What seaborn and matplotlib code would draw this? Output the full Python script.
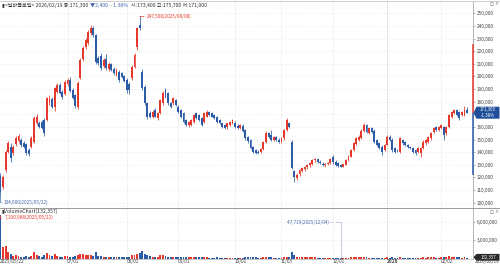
import numpy as np
import pandas as pd
import matplotlib
matplotlib.use("Agg")
import matplotlib.pyplot as plt
from matplotlib.transforms import Affine2D, blended_transform_factory
from matplotlib.patches import Polygon
from matplotlib.ticker import FuncFormatter
import seaborn as sns

# ---------------- data ----------------
stock_name = "달바글로벌"
holidays = ["2025-06-03", "2025-06-06", "2025-08-15", "2025-10-03", "2025-10-06",
            "2025-10-07", "2025-10-08", "2025-10-09", "2025-12-25", "2025-12-31",
            "2026-01-01", "2026-02-16", "2026-02-17", "2026-02-18"]

open_ = [121000, 112700, 126000, 140500, 144500, 139000, 146500, 149000, 150000, 147000,
         146500, 141500, 144400, 148300, 163000, 163000, 164000, 165500, 165500, 179000,
         182500, 175500, 188000, 193000, 187500, 186000, 194000, 197500, 189000, 185000,
         176000, 199000, 213500, 223500, 226500, 234500, 238000, 233000, 214500, 216000,
         208000, 213500, 206000, 210000, 206000, 201000, 203800, 202500, 200000, 197000,
         194000, 198500, 207800, 223600, 240700, 203800, 191900, 178700, 170800, 168200,
         173400, 166800, 170800, 178700, 189300, 186600, 178700, 178700, 181400, 176100,
         173400, 170800, 165500, 161600, 161600, 164200, 170800, 169500, 166800, 164200,
         168200, 172100, 170800, 169500, 168200, 165500, 162900, 161600, 159700, 161600,
         162900, 163500, 161000, 159000, 161000, 157500, 152000, 149500, 144000, 141500,
         140500, 140000, 142500, 148000, 155000, 154000, 150000, 152000, 150000, 148400,
         151000, 157600, 162900, 148400, 125000, 119500, 122500, 125500, 127000, 128000,
         129500, 131000, 133500, 134500, 132500, 131000, 129500, 130500, 131200, 136500,
         132500, 131200, 129900, 128600, 130000, 133500, 136500, 141800, 146500, 150000,
         151500, 157000, 161500, 155500, 158900, 157000, 149700, 147000, 144400, 141800,
         146000, 152300, 150000, 143100, 141800, 140400, 149700, 148400, 145700, 144400,
         143100, 141800, 140400, 139100, 143100, 147000, 148400, 151000, 156300, 160200,
         157600, 158900, 160200, 155000, 160200, 168200, 170800, 173400, 172100, 169500,
         169500, 173400]
high_ = [123500, 122000, 142000, 149000, 147500, 146000, 153000, 154500, 151500, 148500,
         147500, 143000, 152500, 168500, 170000, 165000, 165500, 167000, 184000, 185000,
         184000, 191500, 195000, 194500, 189000, 197000, 199000, 199500, 190500, 186000,
         196500, 214500, 224000, 230500, 236500, 240700, 240000, 234000, 216500, 218500,
         214500, 218000, 211500, 211000, 207500, 206500, 205000, 203500, 201000, 198500,
         195500, 209000, 218500, 239500, 247500, 206000, 193000, 180000, 172500, 173500,
         175000, 172000, 182500, 188500, 190500, 187500, 180000, 184000, 182500, 177000,
         174500, 171500, 166500, 165000, 166500, 170500, 172000, 170500, 167500, 171500,
         173500, 173000, 171500, 170500, 169000, 166500, 163500, 162000, 163500, 165000,
         166500, 165000, 162000, 162500, 162000, 158500, 153000, 150500, 145000, 142500,
         141500, 143500, 149000, 156500, 156000, 157600, 153000, 153000, 151000, 152000,
         158500, 167000, 164000, 150000, 126000, 123500, 126500, 128000, 129000, 130500,
         132000, 134500, 135500, 135000, 133500, 132000, 131500, 132000, 135500, 137500,
         133500, 132000, 130500, 131000, 134500, 137500, 142500, 148000, 152000, 153500,
         158000, 163000, 162500, 160000, 160000, 158000, 150500, 148000, 145500, 146500,
         153500, 153500, 151000, 144000, 142500, 152000, 150500, 149000, 146500, 145000,
         144000, 142500, 144000, 144000, 149500, 150500, 153000, 156000, 160000, 161000,
         161000, 162500, 161000, 161000, 170500, 173000, 174500, 174000, 173000, 173000,
         176500, 175700]
low_ = [104600, 110500, 124500, 139000, 132000, 137500, 145000, 147500, 144500, 143000,
        137500, 137000, 143500, 147500, 161500, 159000, 158000, 153000, 164500, 177500,
        175000, 173000, 186500, 186000, 182500, 185000, 192500, 187500, 182000, 175000,
        174500, 198000, 212000, 222000, 225000, 233000, 231500, 209500, 209000, 205500,
        207000, 205500, 204500, 204000, 201500, 200000, 196000, 198500, 195500, 186600,
        186000, 197000, 206500, 221000, 236500, 189000, 177500, 166500, 167000, 167000,
        167500, 165500, 170000, 177500, 183000, 177500, 175000, 177500, 176500, 171000,
        167000, 163500, 160500, 160000, 160500, 163000, 166000, 164500, 160500, 163000,
        167500, 168500, 167500, 166000, 163500, 162000, 159500, 158000, 158500, 160500,
        162000, 159500, 158500, 158000, 156000, 150000, 147500, 142500, 139500, 138500,
        138500, 139000, 141500, 147000, 151500, 149000, 148500, 148500, 147500, 147500,
        150000, 156500, 159000, 126500, 116700, 118000, 121000, 124000, 125500, 127000,
        128500, 130000, 132000, 131500, 130500, 129000, 128500, 129500, 130500, 131000,
        129000, 128500, 128000, 128000, 129500, 133000, 136000, 141000, 145500, 149000,
        150500, 156000, 155500, 154500, 155500, 147500, 145000, 142500, 138000, 141000,
        145500, 149000, 140000, 139500, 140000, 139500, 146000, 145000, 143500, 142500,
        139500, 138000, 139500, 136500, 142500, 146000, 147500, 150000, 155500, 156500,
        156500, 158000, 149700, 154000, 159500, 167000, 170000, 168500, 165500, 168500,
        169000, 171000]
close_ = [108700, 120600, 140400, 147000, 135500, 144500, 151000, 152500, 145600, 144400,
          139000, 138500, 151000, 166900, 168200, 160200, 159000, 155600, 182700, 183000,
          176000, 190500, 193500, 187000, 184000, 195500, 197500, 188500, 183000, 176500,
          195000, 213000, 222500, 229000, 235000, 238000, 233000, 211700, 210500, 207000,
          213000, 206500, 210000, 205500, 203000, 205000, 197200, 199800, 196500, 189300,
          189000, 207800, 217000, 238100, 238100, 190600, 178700, 168200, 168200, 172100,
          168200, 170800, 181400, 186600, 184000, 178700, 176100, 182700, 177400, 172100,
          168200, 164200, 161600, 164200, 165500, 169500, 166800, 165500, 161600, 170800,
          172100, 169500, 168200, 166800, 164200, 162900, 160200, 158900, 162900, 164200,
          165500, 160200, 159500, 161500, 157000, 151000, 148500, 143500, 140500, 139200,
          139500, 142500, 148000, 155000, 152300, 150000, 152000, 149700, 148400, 151000,
          157600, 165500, 160200, 127200, 120700, 122000, 125900, 127200, 128600, 129900,
          131200, 133900, 134500, 132500, 131200, 129900, 130800, 131200, 134500, 132500,
          129900, 129000, 128600, 130500, 133900, 136500, 141800, 147000, 151000, 152300,
          157000, 161600, 156300, 158900, 156300, 148400, 145700, 143100, 140400, 145700,
          152300, 149700, 141800, 140400, 140800, 151000, 147000, 145700, 144400, 143100,
          140400, 139100, 143100, 143100, 148400, 149700, 152300, 155000, 158900, 157600,
          160200, 161600, 153600, 160200, 169500, 172100, 173400, 169500, 166800, 172100,
          173700, 171300]
volume_k = [7190.988, 1830, 2000, 1150, 720, 420, 550, 480, 330, 300,
            380, 260, 340, 1100, 650, 380, 300, 520, 900, 560,
            480, 760, 450, 300, 280, 420, 380, 330, 300, 350,
            620, 800, 700, 580, 640, 520, 450, 1000, 420, 380,
            300, 320, 260, 240, 220, 250, 280, 230, 260, 320,
            300, 520, 640, 820, 900, 1250, 820, 600, 380, 300,
            260, 240, 520, 600, 420, 330, 250, 280, 220, 200,
            240, 260, 220, 180, 190, 260, 200, 170, 210, 240,
            200, 160, 150, 140, 170, 150, 160, 140, 150, 140,
            130, 150, 120, 130, 160, 220, 200, 240, 210, 170,
            140, 150, 200, 260, 180, 170, 130, 140, 120, 150,
            220, 330, 240, 1150, 620, 320, 260, 210, 180, 190,
            200, 230, 170, 140, 120, 110, 100, 95, 130, 110,
            80, 60, 47.719, 70, 140, 160, 190, 240, 210, 170,
            230, 260, 190, 150, 120, 160, 150, 130, 150, 120,
            200, 150, 180, 120, 100, 230, 140, 110, 100, 90,
            110, 120, 110, 140, 180, 160, 170, 190, 220, 150,
            160, 170, 260, 230, 450, 320, 240, 200, 220, 160,
            180, 132.357]
prev_close = 173700
upper_limit = 225500
lower_limit = 121600
price_ticks = list(range(100000, 250001, 10000))
volume_ticks = [3000000, 6000000]

# ---------------- style ----------------
RED = "#e5392d"
BLUE = "#2c5ca8"
NAVY = "#1f4f9a"
GRID = "#e2e2e2"
TXT = "#444444"

sns.set_style("white")
plt.rcParams["font.family"] = ["Noto Sans CJK KR", "DejaVu Sans"]
FS = 3.4
FS_HEAD = 3.7

dates = pd.bdate_range("2025-05-22", "2026-02-19")
dates = dates[~dates.isin(pd.to_datetime(holidays))]
n = len(dates)
x = np.arange(n)
o = np.array(open_, float)
h = np.array(high_, float)
l = np.array(low_, float)
c = np.array(close_, float)
vol = np.array(volume_k) * 1000
up = c >= o
col = np.where(up, RED, BLUE)

W, H = 500, 265
fig = plt.figure(figsize=(W / 100, H / 100), dpi=100)
px = Affine2D().scale(1 / W, -1 / H).translate(0, 1) + fig.transFigure

ax = fig.add_axes([0, (H - 207) / H, 473 / W, 206 / H])
axv = fig.add_axes([0, (H - 258.5) / H, 473 / W, 50.5 / H])

# month ticks (first month after the listing month is not labelled)
tick_idx = [0]
tick_lab = [dates[0].strftime("%Y/%m/%d")]
first_change = True
for i in range(1, n):
    if dates[i].month != dates[i - 1].month:
        if first_change:
            first_change = False
            continue
        tick_idx.append(i)
        tick_lab.append(str(dates[i].year) if dates[i].month == 1 else dates[i].strftime("%m/%d"))

# ---------------- price pane ----------------
for a in (ax, axv):
    for i, lab in zip(tick_idx[1:], tick_lab[1:]):
        a.axvline(i, color="#a8a8a8" if lab == "2026" else "#d6d6d6", lw=0.5,
                  ls=(0, (1, 1.5)), zorder=0)

ax.vlines(x, l, h, colors=col, lw=0.55, zorder=2)
body = np.maximum(np.abs(c - o), 350)
ax.bar(x, body, bottom=np.minimum(o, c), width=0.74, color=col, linewidth=0, zorder=3)

ax.set_xlim(-0.19, 183.3)
ax.set_ylim(96630, 259740)
ax.set_yticks(price_ticks)
# the tick label hidden under the current-price box is left blank
ax.yaxis.set_major_formatter(
    FuncFormatter(lambda v, _: "" if abs(v - c[-1]) < 6000 else f"{int(v):,}"))
ax.yaxis.tick_right()
ax.tick_params(axis="y", direction="out", length=1.6, width=0.4, color="#777",
               labelsize=FS, labelcolor=TXT, pad=1.2)
ax.tick_params(axis="x", bottom=False, labelbottom=False)
ax.grid(axis="y", color=GRID, lw=0.4, ls=(0, (1, 1.5)))
ax.grid(axis="x", visible=False)
for s in ("left", "top", "bottom"):
    ax.spines[s].set_visible(False)
ax.spines["right"].set_color("#9a9a9a")
ax.spines["right"].set_linewidth(0.5)

# daily limit bar on the axis
bt = blended_transform_factory(ax.transAxes, ax.transData)
ax.plot([1, 1], [c[-1], upper_limit], transform=bt, color=RED, lw=1.1, clip_on=False,
        solid_capstyle="butt", zorder=5)
ax.plot([1, 1], [lower_limit, c[-1]], transform=bt, color=BLUE, lw=1.1, clip_on=False,
        solid_capstyle="butt", zorder=5)

# max / min labels
imax = int(np.argmax(h))
imin = int(np.argmin(l))
ax.annotate(f"{int(h[imax]):,}({dates[imax].strftime('%Y/%m/%d')})", xy=(imax, h[imax]),
            xytext=(5.5, 0), textcoords="offset points", color=RED, fontsize=FS,
            va="center", ha="left",
            arrowprops=dict(arrowstyle="-", color=RED, lw=0.5, shrinkA=0, shrinkB=0))
ax.annotate(f"{int(l[imin]):,}({dates[imin].strftime('%Y/%m/%d')})", xy=(imin, l[imin]),
            xytext=(2.6, -3.6), textcoords="offset points", color="#4a6cad", fontsize=FS,
            va="center", ha="left",
            arrowprops=dict(arrowstyle="-", color="#4a6cad", lw=0.5, shrinkA=0, shrinkB=0,
                            connectionstyle="angle,angleA=0,angleB=90,rad=0"))

# ---------------- volume pane ----------------
vdf = pd.DataFrame({"x": x, "vol": vol, "dir": np.where(up, "up", "down")})
sns.barplot(data=vdf, x="x", y="vol", hue="dir", palette={"up": RED, "down": BLUE},
            native_scale=True, dodge=False, width=0.74, errorbar=None, legend=False,
            saturation=1, linewidth=0, ax=axv, zorder=3)
axv.set_xlim(-0.19, 183.3)
axv.set_ylim(0, 8.37e6)
axv.set_yticks(volume_ticks)
axv.yaxis.set_major_formatter(FuncFormatter(lambda v, _: f"{int(v):,}"))
axv.yaxis.tick_right()
axv.tick_params(axis="y", direction="out", length=1.6, width=0.4, color="#777",
                labelsize=FS, labelcolor=TXT, pad=1.2)
axv.tick_params(axis="x", bottom=False, labelbottom=False)
axv.set_xlabel("")
axv.set_ylabel("")
axv.grid(axis="y", color=GRID, lw=0.4, ls=(0, (1, 1.5)))
for s in ("left", "top"):
    axv.spines[s].set_visible(False)
axv.spines["right"].set_color("#9a9a9a")
axv.spines["right"].set_linewidth(0.5)
axv.spines["bottom"].set_color("#b0b0b0")
axv.spines["bottom"].set_linewidth(0.5)

vmax_i = int(np.argmax(vol))
vmin_i = int(np.argmin(vol))
axv.annotate(f"{int(round(vol[vmax_i])):,}({dates[vmax_i].strftime('%Y/%m/%d')})",
             xy=(vmax_i, vol[vmax_i]), xytext=(2.9, -1.8), textcoords="offset points",
             color=RED, fontsize=FS, va="center", ha="left",
             arrowprops=dict(arrowstyle="-", color=RED, lw=0.5, shrinkA=0, shrinkB=0,
                             connectionstyle="angle,angleA=0,angleB=90,rad=0"))
axv.annotate(f"{int(round(vol[vmin_i])):,}({dates[vmin_i].strftime('%Y/%m/%d')}) --",
             xy=(vmin_i, vol[vmin_i]), xytext=(-5.5, 26), textcoords="offset points",
             color="#4a6cad", fontsize=FS, va="center", ha="right",
             arrowprops=dict(arrowstyle="-", color="#8a9cc4", lw=0.5, ls=(0, (1, 1.2)),
                             shrinkA=0, shrinkB=0,
                             connectionstyle="angle,angleA=0,angleB=90,rad=0"))

# ---------------- x labels ----------------
xt = blended_transform_factory(axv.transData, px)
for i, lab in zip(tick_idx, tick_lab):
    fig.text(i - 0.2, 261.5, lab, transform=xt, fontsize=FS, color=TXT, ha="left",
             va="center", fontweight="bold" if lab == "2026" else "normal")
fig.text(499.5, 261.5, dates[-1].strftime("%Y/%m/%d"), transform=px, fontsize=FS,
         color=TXT, ha="right", va="center")

# ---------------- frame lines ----------------
fig.add_artist(plt.Line2D([0, W], [0.6, 0.6], transform=px, color="#c8c8c8", lw=0.6))
fig.add_artist(plt.Line2D([0, W], [207.8, 207.8], transform=px, color="#9a9a9a", lw=0.7))

# ---------------- header texts (chained) ----------------
chg = c[-1] - prev_close
pct = chg / prev_close * 100
renderer = fig.canvas.get_renderer()
pieces = [
    (f"▮<{stock_name}> {dates[-1].strftime('%Y/%m/%d')} 종:{int(c[-1]):,}", "#333"),
    (f"▼{int(abs(chg)):,}  - {abs(pct):.2f}%", "#3b63ad"),
    (f"시:{int(o[-1]):,} 고:{int(h[-1]):,} 저:{int(l[-1]):,}", "#333"),
]
xcur = 1.5
for s, cc in pieces:
    t = fig.text(xcur, 5.2, s, transform=px, fontsize=FS_HEAD, color=cc, va="center",
                 ha="left")
    bb = t.get_window_extent(renderer=renderer)
    xcur += bb.width * W / fig.bbox.width + 2.5

fig.text(2, 211.5, f"▮VolumeChart({int(round(vol[-1])):,})", transform=px,
         fontsize=FS_HEAD, color="#333", va="center", ha="left")
for yy in (4, 212):
    fig.text(491.5, yy, "⊡", transform=px, fontsize=3.4, color="#777", va="center",
             ha="center", family="DejaVu Sans")
    fig.text(496.8, yy, "×", transform=px, fontsize=3.4, color="#777", va="center",
             ha="center", family="DejaVu Sans")

# ---------------- current price box ----------------
yc = 13.3 + (250000 - c[-1]) / 791.8
box = Polygon([(473.5, yc), (476.5, yc - 6.0), (499.5, yc - 6.0), (499.5, yc + 6.0),
               (476.5, yc + 6.0)], closed=True, transform=px, facecolor=NAVY,
              edgecolor="none", zorder=10)
fig.add_artist(box)
fig.text(488, yc - 2.9, f"{int(c[-1]):,}", transform=px, fontsize=3.2, color="white",
         ha="center", va="center", zorder=11)
fig.text(488, yc + 3.0, f"-{abs(pct):.2f}%", transform=px, fontsize=3.2, color="white",
         ha="center", va="center", zorder=11)

# ---------------- last volume box ----------------
yv = 257.3
vbox = Polygon([(473.5, yv), (476.5, yv - 3.4), (499.5, yv - 3.4), (499.5, yv + 3.4),
                (476.5, yv + 3.4)], closed=True, transform=px, facecolor="#2a2a2a",
               edgecolor="none", zorder=10)
fig.add_artist(vbox)
fig.text(488, yv, f"{int(round(vol[-1])):,}", transform=px, fontsize=3.2, color="white",
         ha="center", va="center", zorder=11)

fig.savefig("out.png", dpi=100)
